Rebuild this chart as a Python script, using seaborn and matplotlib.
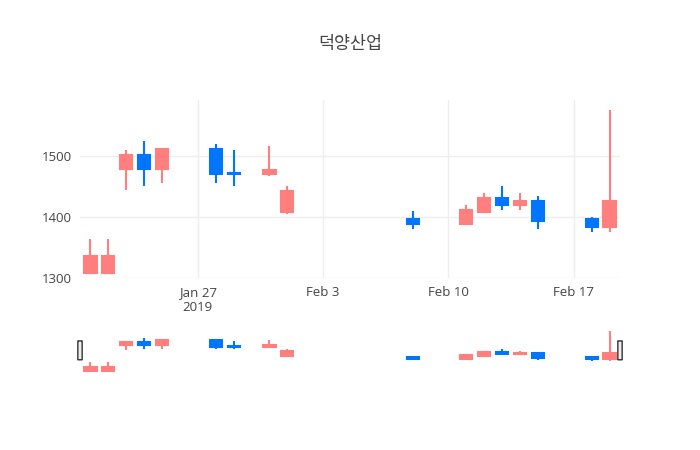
import pandas as pd
import matplotlib.pyplot as plt
from matplotlib.patches import FancyBboxPatch
import seaborn as sns

dates = ['2019-01-21', '2019-01-22', '2019-01-23', '2019-01-24', '2019-01-25',
         '2019-01-28', '2019-01-29', '2019-01-31', '2019-02-01', '2019-02-08',
         '2019-02-11', '2019-02-12', '2019-02-13', '2019-02-14', '2019-02-15',
         '2019-02-18', '2019-02-19']
opens = [1309, 1309, 1479, 1501, 1479, 1512, 1472, 1470, 1409, 1397,
         1389, 1409, 1432, 1419, 1426, 1397, 1384]
highs = [1364, 1364, 1510, 1525, 1512, 1520, 1510, 1516, 1451, 1410,
         1420, 1440, 1451, 1440, 1435, 1400, 1575]
lows = [1309, 1309, 1445, 1451, 1456, 1456, 1451, 1467, 1405, 1380,
        1389, 1406, 1411, 1411, 1380, 1375, 1375]
closes = [1336, 1336, 1501, 1479, 1512, 1470, 1470, 1477, 1442, 1389,
          1412, 1432, 1419, 1426, 1394, 1384, 1426]

df = pd.DataFrame({'date': pd.to_datetime(dates), 'open': opens, 'high': highs,
                   'low': lows, 'close': closes})
df['up'] = df['close'] >= df['open']

sns.set_style('white')
plt.rcParams['font.family'] = ['Open Sans', 'Noto Sans CJK KR', 'DejaVu Sans']

UP, DOWN = '#FF7F7F', '#0076FF'


def draw_candles(ax, lw, width):
    for _, r in df.iterrows():
        c = UP if r['up'] else DOWN
        ax.vlines(r['date'], r['low'], r['high'], color=c, lw=lw, zorder=2)
        lo, hi = sorted([r['open'], r['close']])
        ax.bar(r['date'], hi - lo, bottom=lo, width=width, color=c,
               edgecolor=c, lw=lw, zorder=3)


fig = plt.figure(figsize=(7, 4.5), dpi=100)
ax = fig.add_axes([80 / 700, 1 - 278 / 450, 540 / 700, 178 / 450])
draw_candles(ax, 1.5, 0.68)
x0, x1 = pd.Timestamp('2019-01-20 10:00'), pd.Timestamp('2019-02-19 14:00')
ax.set_xlim(x0, x1)
ax.set_ylim(1300, 1592)
ax.set_yticks([1300, 1400, 1500])
ax.set_xticks(pd.to_datetime(['2019-01-27', '2019-02-03', '2019-02-10', '2019-02-17']))
ax.set_xticklabels(['Jan 27\n2019', 'Feb 3', 'Feb 10', 'Feb 17'])
ax.grid(True, color='#eeeeee', lw=1, zorder=0)
ax.set_axisbelow(True)
for s in ax.spines.values():
    s.set_visible(False)
ax.tick_params(length=0, labelsize=9.5, colors='#444444', pad=6)

# range slider
ax2 = fig.add_axes([80 / 700, 1 - 372 / 450, 540 / 700, 42 / 450])
draw_candles(ax2, 1.5, 0.68)
ax2.set_xlim(x0, x1)
ax2.set_ylim(1300, 1580)
ax2.axis('off')
for hx in [0.0, 1.0]:
    ax2.add_patch(FancyBboxPatch((hx - 0.004, 0.29), 0.008, 0.45,
                                 boxstyle='round,pad=0,rounding_size=0.004',
                                 transform=ax2.transAxes, fc='#eeeeee', ec='#333333',
                                 lw=1, clip_on=False, zorder=5))

fig.text(0.5, 1 - 44 / 450, '덕양산업', ha='center', va='center', fontsize=12.5,
         color='#444444', family=['Noto Sans CJK KR', 'DejaVu Sans'])
fig.savefig('out.png', dpi=100)
